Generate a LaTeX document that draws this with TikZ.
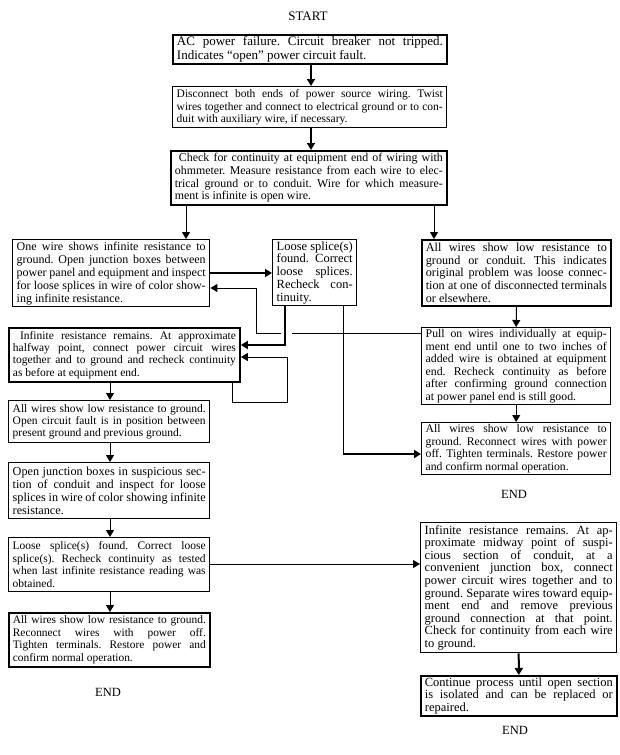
\documentclass[tikz,border=0pt]{standalone}
\usepackage{fontspec}
\setmainfont{Liberation Serif}
\usetikzlibrary{arrows.meta}
\setlength\parindent{0pt}
\newcommand\setsp{\spaceskip=\fontdimen2\font plus .8\fontdimen2\font minus .25\fontdimen2\font\relax}
\newcommand\para{\frenchspacing\tolerance=10000\hyphenpenalty=10000\exhyphenpenalty=0\emergencystretch=2em\rightskip=0pt\relax\setsp}
\newcommand\fs[2]{\fontsize{#1}{#2}\selectfont\setsp}
\tikzset{
  box/.style={draw, line width=1.4pt, anchor=north west, inner xsep=4pt, inner ysep=1pt,
    align=justify, font=\fs{11.5}{12.8}, execute at begin node=\para},
  lbl/.style={font=\fs{12.5}{14}, inner sep=0pt},
  tip/.style={-{Triangle[length=7pt,width=8pt]}},
  thinarr/.style={tip, line width=1pt},
  thickarr/.style={tip, line width=2pt},
  thinline/.style={line width=1pt},
}
\begin{document}
\begin{tikzpicture}[x=1pt,y=-1pt]
\useasboundingbox (0,0) rectangle (620,755);

\node[lbl, font=\fs{13}{14}] (start) at (308,16) {START};

\node[box, line width=1.9pt, text width=266pt, minimum height=29pt, font=\fs{13}{14}] (A) at (172,34) {%
AC power failure. Circuit breaker not tripped.\linebreak
Indicates “open” power circuit fault.};

\node[box, text width=266pt, minimum height=41pt, font=\fs{11.5}{12.8}] (B) at (172,86) {%
Disconnect both ends of power source wiring. Twist\linebreak
wires together and connect to electrical ground or to con-\linebreak
duit with auxiliary wire, if necessary.};

\node[box, line width=1.7pt, text width=268pt, minimum height=54pt, font=\fs{11.9}{12.8}] (C) at (170,150) {%
\ Check for continuity at equipment end of wiring with\linebreak
ohmmeter. Measure resistance from each wire to elec-\linebreak
trical ground or to conduit. Wire for which measure-\linebreak
ment is infinite is open wire.};

\node[box, text width=189pt, minimum height=67pt, font=\fs{12}{13}] (D1) at (12,239) {%
One wire shows infinite resistance to\linebreak
ground. Open junction boxes between\linebreak
power panel and equipment and inspect\linebreak
for loose splices in wire of color show-\linebreak
ing infinite resistance.};

\node[box, text width=76pt, minimum height=66pt, font=\fs{12.5}{12.8}] (L) at (272,239) {%
Loose splice(s)\linebreak
found. Correct\linebreak
loose splices.\linebreak
Recheck con-\linebreak
tinuity.};

\node[box, line width=1.7pt, text width=181pt, minimum height=66pt, font=\fs{12.2}{12.8}] (R1) at (421,239) {%
All wires show low resistance to\linebreak
ground or conduit. This indicates\linebreak
original problem was loose connec-\linebreak
tion at one of disconnected terminals\linebreak
or elsewhere.};

\node[box, line width=1.9pt, text width=223pt, minimum height=54pt, font=\fs{11.5}{12.4}] (D2) at (8,327) {%
\ Infinite resistance remains. At approximate\linebreak
halfway point, connect power circuit wires\linebreak
together and to ground and recheck continuity\linebreak
as before at equipment end.};

\node[box, text width=181pt, minimum height=77pt, font=\fs{11.8}{12.6}] (R2) at (421,327) {%
Pull on wires individually at equip-\linebreak
ment end until one to two inches of\linebreak
added wire is obtained at equipment\linebreak
end. Recheck continuity as before\linebreak
after confirming ground connection\linebreak
at power panel end is still good.};

\node[box, text width=193pt, minimum height=42pt, font=\fs{11.5}{12.2}] (D3) at (8,400) {%
All wires show low resistance to ground.\linebreak
Open circuit fault is in position between\linebreak
present ground and previous ground.};

\node[box, text width=181pt, minimum height=52pt, font=\fs{11.7}{12.6}] (R3) at (421,422) {%
All wires show low resistance to\linebreak
ground. Reconnect wires with power\linebreak
off. Tighten terminals. Restore power\linebreak
and confirm normal operation.};

\node[lbl] (end1) at (514,494) {END};

\node[box, text width=193pt, minimum height=56pt, font=\fs{12.2}{12.8}] (D4) at (8,462) {%
Open junction boxes in suspicious sec-\linebreak
tion of conduit and inspect for loose\linebreak
splices in wire of color showing infinite\linebreak
resistance.};

\node[box, text width=193pt, minimum height=54pt, font=\fs{11.5}{12.6}] (D5) at (8,537) {%
Loose splice(s) found. Correct loose\linebreak
splice(s). Recheck continuity as tested\linebreak
when last infinite resistance reading was\linebreak
obtained.};

\node[box, line width=1.7pt, text width=193pt, minimum height=54pt, font=\fs{11.4}{12.6}] (D6) at (8,612) {%
All wires show low resistance to ground.\linebreak
Reconnect wires with power off.\linebreak
Tighten terminals. Restore power and\linebreak
confirm normal operation.};

\node[lbl] (end2) at (108,692) {END};

\node[box, text width=188pt, minimum height=130pt, font=\fs{12.5}{12.6}] (R4) at (420,522) {%
Infinite resistance remains. At ap-\linebreak
proximate midway point of suspi-\linebreak
cious section of conduit, at a\linebreak
convenient junction box, connect\linebreak
power circuit wires together and to\linebreak
ground. Separate wires toward equip-\linebreak
ment end and remove previous\linebreak
ground connection at that point.\linebreak
Check for continuity from each wire\linebreak
to ground.};

\node[box, line width=1.7pt, text width=188pt, minimum height=40pt, font=\fs{12.5}{12.8}] (R5) at (420,675) {%
Continue process until open section\linebreak
is isolated and can be replaced or\linebreak
repaired.};

\node[lbl] (end3) at (515,730) {END};

% coordinates
\coordinate (xa) at (186,0);
\coordinate (xb) at (434,0);
\coordinate (xl) at (110,0);
\coordinate (xm) at (311,0);
\coordinate (ya) at (0,273);
\coordinate (g1) at (292,333);
\coordinate (g2) at (281,333);
\coordinate (k1) at (256,333);
\coordinate (k2) at (256,288);
\coordinate (c1) at (285,345);
\coordinate (c2) at (232,402);
\coordinate (c3) at (287,357);
\coordinate (c4) at (343,454);
\coordinate (y5) at (0,564);

% connectors
\draw[thickarr] (A.south -| xm) -- (B.north -| xm);
\draw[thickarr] (B.south -| xm) -- (C.north -| xm);
\draw[thinarr] (C.south -| xa) -- (D1.north -| xa);
\draw[thinarr] (C.south -| xb) -- (R1.north -| xb);
\draw[thickarr] (D1.east |- ya) -- (L.west |- ya);
\draw[thinline] (R2.west |- g1) -- (g1);
\draw[thinarr] (g2) -- (k1) -- (k2) -- (D1.east |- k2);
\draw[thickarr] (L.south -| c1) -- (c1) -- (D2.east |- c1);
\draw[thinarr] (D2.south -| c2) -- (c2) -| (c3) -- (D2.east |- c3);
\draw[thinline] (L.south -| c4) -- (c4);
\draw[thickarr] (c4) -- (R3.west |- c4);
\draw[thinarr] (D2.south -| xl) -- (D3.north -| xl);
\draw[thinarr] (D3.south -| xl) -- (D4.north -| xl);
\draw[thinarr] (D4.south -| xl) -- (D5.north -| xl);
\draw[thinarr] (D5.south -| xl) -- (D6.north -| xl);
\draw[thinarr] (D5.east |- y5) -- (R4.west |- y5);
\draw[thinarr] (R1.south) -- (R2.north);
\draw[thinarr] (R2.south) -- (R3.north);
\draw[thickarr] (R4.south) -- (R5.north);
\end{tikzpicture}
\end{document}
